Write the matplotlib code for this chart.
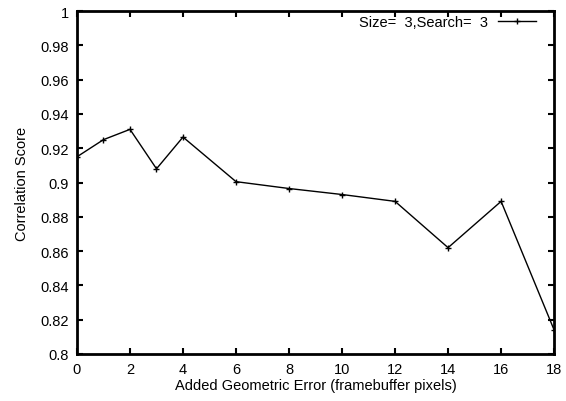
import matplotlib
matplotlib.use("Agg")
import matplotlib.pyplot as plt

plt.rcParams["font.family"] = ["Liberation Sans", "DejaVu Sans"]

# values
geom_error = [0, 1, 2, 3, 4, 6, 8, 10, 12, 14, 16, 18]
corr_score = [0.915, 0.925, 0.931, 0.908, 0.9265, 0.9005, 0.8965, 0.893,
              0.889, 0.862, 0.889, 0.814]
x_ticks = [0, 2, 4, 6, 8, 10, 12, 14, 16, 18]
y_ticks = [0.8, 0.82, 0.84, 0.86, 0.88, 0.9, 0.92, 0.94, 0.96, 0.98, 1.0]
y_tick_labels = ["0.8", "0.82", "0.84", "0.86", "0.88", "0.9", "0.92",
                 "0.94", "0.96", "0.98", "1"]
series_label = "Size=  3,Search=  3"


def main():
    fig = plt.figure(figsize=(5.66, 4.02), dpi=100)
    ax = fig.add_axes([0.136, 0.117, 0.843, 0.853])

    ax.plot(geom_error, corr_score, color="black", lw=1.0, marker="+",
            markersize=5, markeredgewidth=1.0, label=series_label)

    ax.set_xlim(0, 18)
    ax.set_ylim(0.8, 1.0)
    ax.set_xticks(x_ticks)
    ax.set_yticks(y_ticks)
    ax.set_yticklabels(y_tick_labels)
    ax.tick_params(direction="in", top=True, right=True, length=4,
                   width=1.5, labelsize=10.5, pad=6)
    for s in ax.spines.values():
        s.set_linewidth(2)

    ax.set_xlabel("Added Geometric Error (framebuffer pixels)", fontsize=10.5,
                  labelpad=1)
    ax.set_ylabel("Correlation Score", fontsize=10.5, labelpad=8)

    ax.legend(loc="upper right", bbox_to_anchor=(0.975, 1.006),
              frameon=False, fontsize=10.5, markerfirst=False,
              handlelength=2.6, borderaxespad=0, handletextpad=0.7)

    fig.savefig("out.png", dpi=100)
    plt.close(fig)


if __name__ == "__main__":
    main()
